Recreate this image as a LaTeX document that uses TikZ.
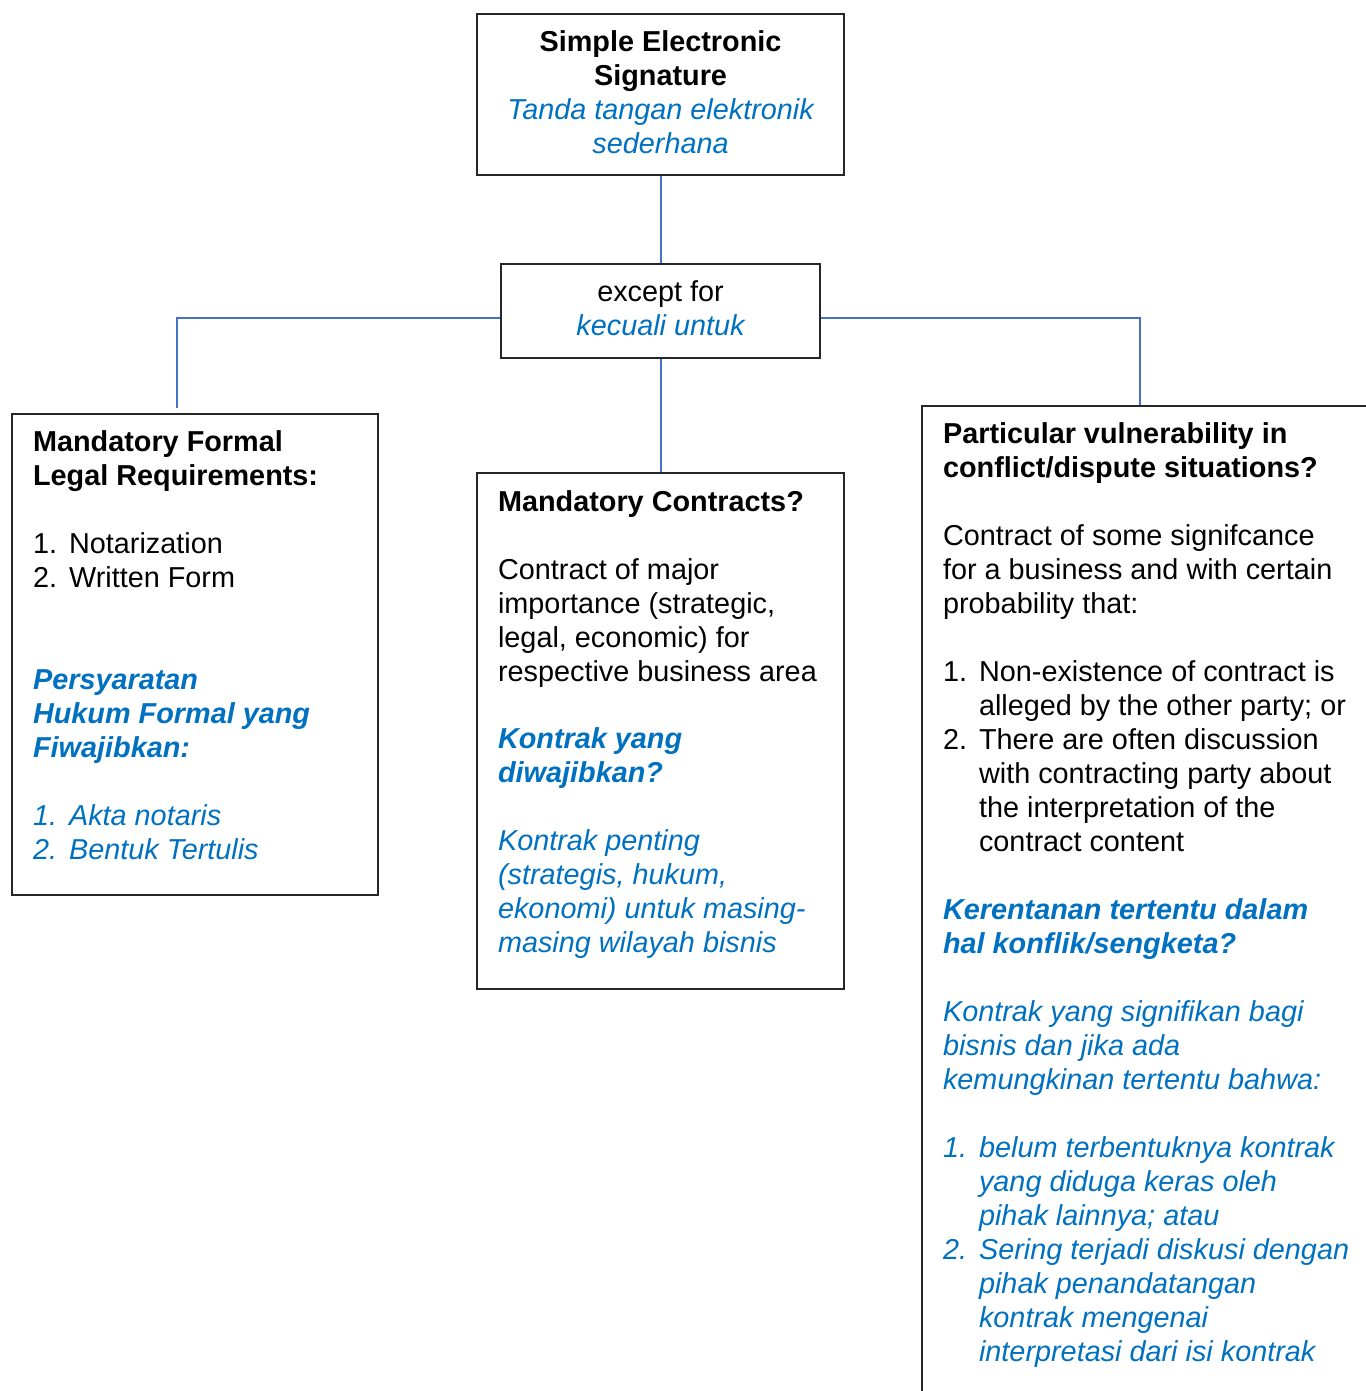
\documentclass[tikz,border=0pt]{standalone}
\usepackage{fontspec}
\setmainfont{Liberation Sans}
\usepackage{xcolor}
\usepackage{tikz}
\usetikzlibrary{positioning}
\definecolor{idblue}{RGB}{0,112,192}
\definecolor{linkblue}{RGB}{68,114,196}
\tikzstyle{card} = [rectangle, draw=black!85, line width=0.6pt, anchor=north west, inner xsep=2.1mm, inner ysep=1.4mm]
\tikzstyle{link} = [draw=linkblue, line width=0.6pt]
\newcommand{\cardtext}[3]{\parbox[t][#2][t]{#1}{\rightskip=0pt plus 1fil\parfillskip=0pt plus 1fil\strut #3}}
\newcommand{\idtext}[1]{{\color{idblue}\itshape #1}}
\newcommand{\idhead}[1]{{\color{idblue}\bfseries\itshape #1}}
\newcommand{\numitem}[2]{\par\hangindent=3.6mm\hangafter=1\noindent\makebox[3.6mm][l]{#1}#2}
\newcommand{\gap}[1][1]{\par\vspace{#1\baselineskip}}

\begin{document}
\begin{tikzpicture}[font=\fontsize{8.2}{9.67}\selectfont]
        \useasboundingbox (0,0) rectangle (13.65,-13.91);
        % Nodes
        \node [card] (sig) at (4.76,-0.13) {\cardtext{3.25cm}{1.33cm}{\centering
            \textbf{Simple Electronic\\Signature}\\\idtext{Tanda tangan elektronik\\sederhana}}};
        \node [card, below=0.87cm of sig] (except) {\cardtext{2.77cm}{0.66cm}{\centering
            except for\\\idtext{kecuali untuk}}};
        \node [card, below=1.13cm of except] (contracts) {\cardtext{3.25cm}{4.88cm}{%
            \textbf{Mandatory Contracts?}
            \gap
            Contract of major\\importance (strategic,\\legal, economic) for\\respective business area
            \gap
            \idhead{Kontrak yang\\diwajibkan?}
            \gap
            \idtext{Kontrak penting\\(strategis, hukum,\\ekonomi) untuk masing-\\masing wilayah bisnis}}};
        \node [card] (legal) at (0.11,-4.13) {\cardtext{3.24cm}{4.53cm}{%
            \textbf{Mandatory Formal\\Legal Requirements:}
            \gap
            \numitem{1.}{Notarization}
            \numitem{2.}{Written Form}
            \gap[2]
            \idhead{Persyaratan\\Hukum Formal yang\\Fiwajibkan:}
            \gap
            \numitem{\idtext{1.}}{\idtext{Akta notaris}}
            \numitem{\idtext{2.}}{\idtext{Bentuk Tertulis}}}};
        \node [card] (vuln) at (9.21,-4.05) {\cardtext{4.6cm}{10cm}{%
            \textbf{Particular vulnerability in\\conflict/dispute situations?}
            \gap
            Contract of some signifcance\\for a business and with certain\\probability that:
            \gap
            \numitem{1.}{Non-existence of contract is\\alleged by the other party; or}
            \numitem{2.}{There are often discussion\\with contracting party about\\the interpretation of the\\contract content}
            \gap
            \idhead{Kerentanan tertentu dalam\\hal konflik/sengketa?}
            \gap
            \idtext{Kontrak yang signifikan bagi\\bisnis dan jika ada\\kemungkinan tertentu bahwa:}
            \gap
            \numitem{\idtext{1.}}{\idtext{belum terbentuknya kontrak\\yang diduga keras oleh\\pihak lainnya; atau}}
            \numitem{\idtext{2.}}{\idtext{Sering terjadi diskusi dengan\\pihak penandatangan\\kontrak mengenai\\interpretasi dari isi kontrak}}}};

        % Paths
        \path [link] (sig.south) -- (except.north);
        \path [link] (except.south) -- (contracts.north);
        \path [link] ([yshift=-0.7mm]except.west) -| ([xshift=-1.8mm, yshift=0.5mm]legal.north);
        \path [link] ([yshift=-0.7mm]except.east) -| ([xshift=21.9mm]vuln.north west);
    \end{tikzpicture}
\end{document}
